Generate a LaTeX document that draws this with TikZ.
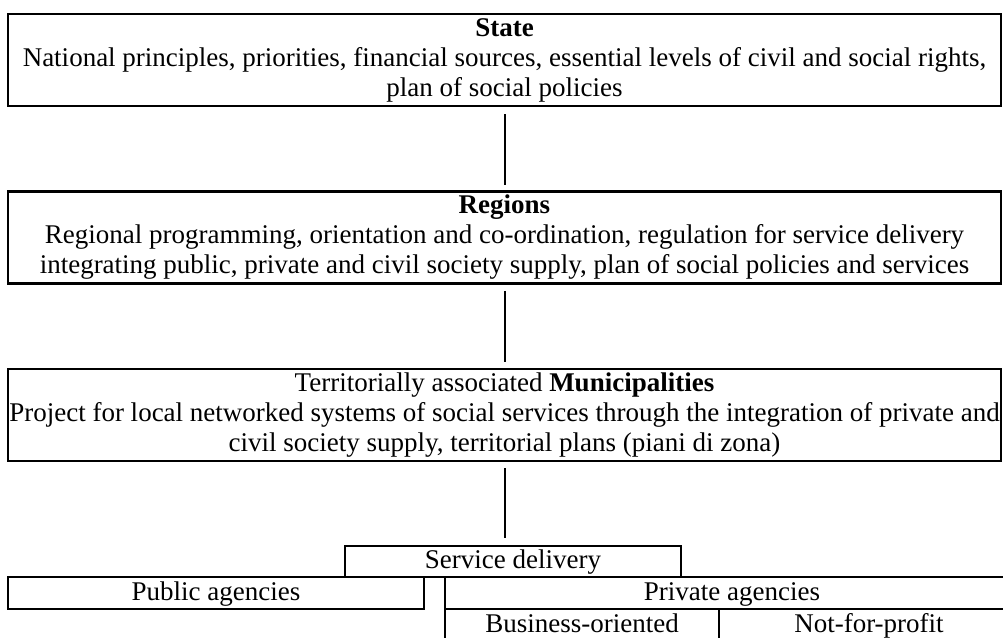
\documentclass[tikz,border=0pt]{standalone}
\usepackage{fontspec}
\setmainfont{Liberation Serif}
\begin{document}
\begin{tikzpicture}[x=1pt,y=-1pt,
  txt/.style={font=\fontsize{27}{30}\selectfont},
  bigbox/.style={draw, line width=2.6pt, align=center, inner sep=0pt, txt, minimum width=993pt, minimum height=92pt},
  smallbox/.style={draw, line width=2pt, inner sep=0pt, txt, text height=20pt, text depth=6pt, minimum height=32pt},
  link/.style={line width=2pt}]
\useasboundingbox (0,0) rectangle (1003,637);
\clip (0,0) rectangle (1003,637);
\node[bigbox] (state) at (504.5,60) {\textbf{State}\\National principles, priorities, financial sources, essential levels of civil and social rights,\\plan of social policies};
\node[bigbox] (regions) at (504.5,237.5) {\textbf{Regions}\\Regional programming, orientation and co-ordination, regulation for service delivery\\integrating public, private and civil society supply, plan of social policies and services};
\node[bigbox] (munic) at (504.5,415) {Territorially associated \textbf{Municipalities}\\Project for local networked systems of social services through the integration of private and\\civil society supply, territorial plans (piani di zona)};
\node[smallbox, minimum width=336pt, minimum height=31pt] (service) at (513,561.5) {Service delivery};
\node[smallbox, minimum width=416pt] (public) at (216,593) {Public agencies};
\node[smallbox, minimum width=574pt] (private) at (732,593) {Private agencies};
\node[smallbox, minimum width=274pt] (business) at (582,625) {Business-oriented};
\node[smallbox, minimum width=300pt] (nonprofit) at (869,625) {Not-for-profit};
\draw[link] ([yshift=-7pt]state.south) -- ([yshift=5pt]regions.north);
\draw[link] ([yshift=-6pt]regions.south) -- ([yshift=6pt]munic.north);
\draw[link] ([yshift=-6pt]munic.south) -- ([yshift=7pt]munic.south |- service.north);
\end{tikzpicture}
\end{document}
